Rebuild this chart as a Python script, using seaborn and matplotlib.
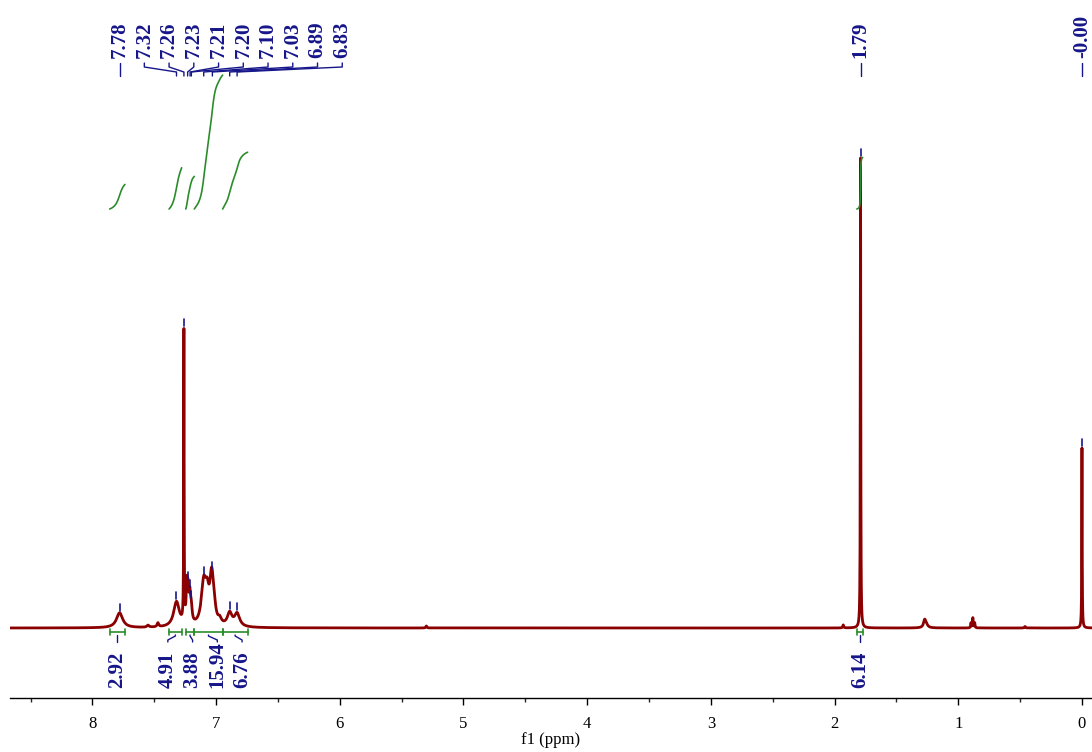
import numpy as np
import pandas as pd
import matplotlib
matplotlib.use("Agg")
import matplotlib.pyplot as plt
from matplotlib.ticker import MultipleLocator
import seaborn as sns

# ---------------- data ----------------
# peak list: position (ppm), height (baseline-relative units), full width at half height (ppm)
peak_ppm = [7.78, 7.55, 7.47, 7.32, 7.26, 7.236, 7.226, 7.212, 7.200, 7.100, 7.072,
            7.036, 7.018, 6.970, 6.890, 6.830, 5.30, 1.93, 1.79, 1.272, 1.262,
            0.897, 0.882, 0.867, 0.46, 0.00]
peak_height = [15, 2, 4, 25, 290, 36, 28, 26, 14, 41, 24,
               45, 14, 5, 13, 13, 2, 3, 470, 6, 4,
               5, 10, 5, 1.5, 180]
peak_width = [0.06, 0.02, 0.015, 0.055, 0.004, 0.012, 0.012, 0.014, 0.016, 0.045, 0.035,
              0.035, 0.03, 0.03, 0.045, 0.050, 0.01, 0.008, 0.004, 0.02, 0.03,
              0.006, 0.006, 0.006, 0.01, 0.004]

# labelled peaks (top)
shift_labels = ["7.78", "7.32", "7.26", "7.23", "7.21", "7.20", "7.10", "7.03",
                "6.89", "6.83", "1.79", "-0.00"]
shift_values = [7.78, 7.32, 7.26, 7.23, 7.21, 7.20, 7.10, 7.03, 6.89, 6.83, 1.79, 0.00]

# integrals: ranges (ppm) and values
integral_start = [7.86, 7.38, 7.245, 7.176, 6.947, 1.82]
integral_end = [7.737, 7.278, 7.176, 6.947, 6.745, 1.773]
integral_values = [2.92, 4.91, 3.88, 15.94, 6.76, 6.14]

# ---------------- spectrum from the peak list ----------------
ppm = np.arange(-0.09, 8.68, 0.0004)
intensity = np.zeros_like(ppm)
for p0, h, w in zip(peak_ppm, peak_height, peak_width):
    intensity += h / (1.0 + ((ppm - p0) / (w / 2.0)) ** 2)
spec = pd.DataFrame({"ppm": ppm, "intensity": intensity})

# ---------------- styling ----------------
sns.set_theme(style="white")
plt.rcParams["font.family"] = ["Liberation Serif", "DejaVu Serif"]

RED = "#8b0000"
BLUE = "#16168a"
GREEN = "#2b8c2b"

fig = plt.figure(figsize=(10.92, 7.52), dpi=100)
ax = fig.add_axes([10 / 1092, 54 / 752, 1082 / 1092, 698 / 752])

sns.lineplot(data=spec, x="ppm", y="intensity", ax=ax, color=RED, lw=2.0,
             estimator=None, sort=False, legend=False)

ax.set_xlim(8.666, -0.081)
ax.set_ylim(-70, 628)


def ypx(p):  # reference pixel row -> data y
    return 628 - p


def spec_at(x):
    return float(np.interp(x, ppm, intensity))


# ---- peak markers and top labels ----
label_pos = [7.78 - 0.2 * k for k in range(10)] + [1.79, 0.0]
for lab, pv, lx in zip(shift_labels, shift_values, label_pos):
    top = spec_at(pv)
    ax.plot([pv, pv], [top + 2, top + 9], color=BLUE, lw=1.2)
    ax.plot([lx, lx, pv, pv], [ypx(63), ypx(67), ypx(72), ypx(76)], color=BLUE, lw=1.0)
    ax.text(lx, ypx(58), lab, rotation=90, ha="center", va="bottom",
            fontsize=15, fontweight="bold", color=BLUE)

# ---- integrals ----
int_base = ypx(209)
int_scale = 8.4
int_label_pos = [None, 7.39, 7.19, 6.99, 6.79, None]
for s, e, v, lpos in zip(integral_start, integral_end, integral_values, int_label_pos):
    m = (ppm <= s) & (ppm >= e)
    xs = ppm[m][::-1]
    ys = intensity[m][::-1]
    cum = np.concatenate([[0], np.cumsum(0.5 * (ys[1:] + ys[:-1]) * np.abs(np.diff(xs)))])
    cum = cum / cum[-1] * v * int_scale
    ax.plot(xs, int_base + cum, color=GREEN, lw=1.2)
    # bracket under baseline
    ax.plot([s, e], [-4, -4], color=GREEN, lw=1.2)
    ax.plot([s, s], [-1, -7], color=GREEN, lw=1.2)
    ax.plot([e, e], [-1, -7], color=GREEN, lw=1.2)
    c = 0.5 * (s + e)
    lx = c if lpos is None else lpos
    ax.plot([c, c, lx, lx], [-7, -8, -12, -14], color=BLUE, lw=1.0)
    ax.text(lx, ypx(688), f"{v:.2f}", rotation=90, ha="center", va="bottom",
            fontsize=15, fontweight="bold", color=BLUE)

# ---- axes ----
for side in ["left", "right", "top"]:
    ax.spines[side].set_visible(False)
ax.spines["bottom"].set_color("black")
ax.spines["bottom"].set_linewidth(1.0)
ax.set_yticks([])
ax.xaxis.set_major_locator(MultipleLocator(1))
ax.xaxis.set_minor_locator(MultipleLocator(0.5))
ax.tick_params(axis="x", which="major", length=5, width=1, pad=8,
               labelsize=12, bottom=True, direction="out", colors="black")
ax.tick_params(axis="x", which="minor", length=3, width=1, bottom=True, direction="out")
ax.set_xticks(range(0, 9))
ax.set_xticklabels([str(i) for i in range(0, 9)])
ax.set_xlabel("f1 (ppm)", fontsize=12, labelpad=0, color="black")
ax.set_ylabel("")

fig.savefig("out.png", dpi=100)
